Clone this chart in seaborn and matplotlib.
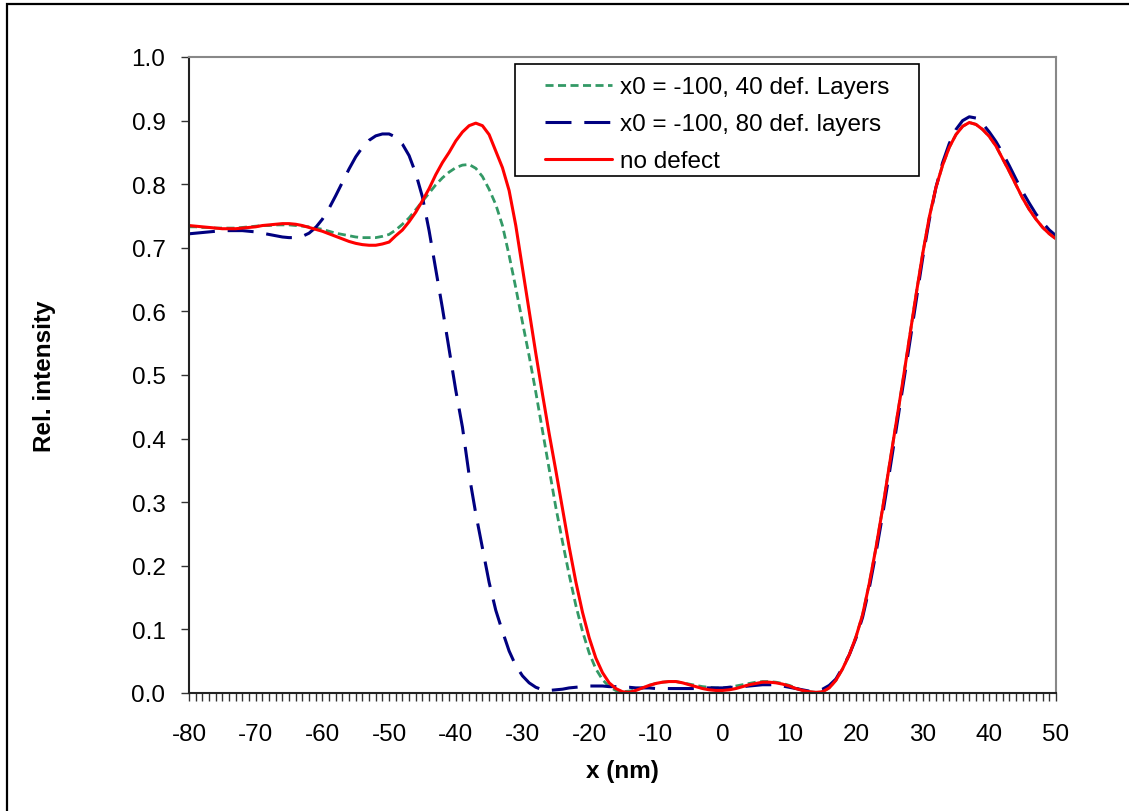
import numpy as np
import pandas as pd
import matplotlib
matplotlib.use("Agg")
import matplotlib.pyplot as plt
import matplotlib.patches as mpatches
from matplotlib.ticker import MultipleLocator, FormatStrFormatter
import seaborn as sns

# ---------------- data ----------------
x_nm = list(range(-80, 51))

no_defect = [
    0.735, 0.734, 0.733, 0.732, 0.731, 0.730, 0.730, 0.730, 0.731, 0.732,   # -80..-71
    0.733, 0.735, 0.736, 0.737, 0.738, 0.738, 0.737, 0.735, 0.732, 0.729,   # -70..-61
    0.726, 0.722, 0.718, 0.714, 0.710, 0.707, 0.705, 0.704, 0.704, 0.706,   # -60..-51
    0.709, 0.719, 0.728, 0.741, 0.756, 0.774, 0.793, 0.815, 0.834, 0.850,   # -50..-41
    0.868, 0.882, 0.892, 0.896, 0.892, 0.878, 0.852, 0.826, 0.790, 0.735,   # -40..-31
    0.668, 0.601, 0.534, 0.470, 0.408, 0.350, 0.290, 0.230, 0.175, 0.127,   # -30..-21
    0.087, 0.055, 0.032, 0.016, 0.007, 0.002, 0.001, 0.004, 0.008, 0.012,   # -20..-11
    0.015, 0.017, 0.018, 0.018, 0.016, 0.013, 0.010, 0.007, 0.005, 0.004,   # -10..-1
    0.004, 0.005, 0.007, 0.010, 0.013, 0.015, 0.017, 0.017, 0.016, 0.014,   # 0..9
    0.011, 0.007, 0.004, 0.002, 0.001, 0.002, 0.008, 0.020, 0.038, 0.060,   # 10..19
    0.088, 0.123, 0.172, 0.228, 0.290, 0.357, 0.422, 0.488, 0.556, 0.625,   # 20..29
    0.690, 0.748, 0.795, 0.830, 0.858, 0.878, 0.891, 0.897, 0.894, 0.886,   # 30..39
    0.875, 0.860, 0.840, 0.820, 0.799, 0.778, 0.760, 0.745, 0.732, 0.722,   # 40..49
    0.714,                                                                   # 50
]

def_40 = [
    0.733, 0.733, 0.732, 0.732, 0.731, 0.731, 0.731, 0.731, 0.732, 0.733,   # -80..-71
    0.734, 0.735, 0.735, 0.736, 0.736, 0.736, 0.735, 0.734, 0.733, 0.731,   # -70..-61
    0.729, 0.726, 0.723, 0.721, 0.719, 0.717, 0.716, 0.716, 0.716, 0.718,   # -60..-51
    0.721, 0.728, 0.737, 0.747, 0.760, 0.773, 0.786, 0.799, 0.810, 0.819,   # -50..-41
    0.826, 0.830, 0.831, 0.825, 0.812, 0.792, 0.768, 0.735, 0.688, 0.637,   # -40..-31
    0.583, 0.530, 0.473, 0.413, 0.352, 0.292, 0.238, 0.186, 0.138, 0.097,   # -30..-21
    0.063, 0.038, 0.021, 0.010, 0.004, 0.002, 0.003, 0.005, 0.008, 0.012,   # -20..-11
    0.015, 0.017, 0.018, 0.018, 0.016, 0.014, 0.012, 0.010, 0.009, 0.008,   # -10..-1
    0.008, 0.009, 0.011, 0.013, 0.015, 0.017, 0.018, 0.018, 0.017, 0.015,   # 0..9
    0.012, 0.008, 0.004, 0.002, 0.001, 0.002, 0.008, 0.020, 0.038, 0.060,   # 10..19
    0.088, 0.123, 0.172, 0.228, 0.290, 0.357, 0.422, 0.488, 0.556, 0.625,   # 20..29
    0.690, 0.748, 0.795, 0.830, 0.858, 0.878, 0.891, 0.897, 0.894, 0.886,   # 30..39
    0.875, 0.860, 0.840, 0.820, 0.799, 0.778, 0.760, 0.745, 0.732, 0.722,   # 40..49
    0.714,                                                                   # 50
]

def_80 = [
    0.722, 0.723, 0.724, 0.725, 0.726, 0.727, 0.727, 0.727, 0.727, 0.726,   # -80..-71
    0.725, 0.723, 0.721, 0.719, 0.717, 0.716, 0.716, 0.718, 0.723, 0.732,   # -70..-61
    0.745, 0.762, 0.782, 0.803, 0.824, 0.843, 0.858, 0.869, 0.876, 0.879,   # -60..-51
    0.879, 0.874, 0.863, 0.845, 0.817, 0.780, 0.727, 0.666, 0.605, 0.541,   # -50..-41
    0.476, 0.418, 0.343, 0.282, 0.228, 0.174, 0.130, 0.097, 0.066, 0.043,   # -40..-31
    0.027, 0.016, 0.009, 0.005, 0.004, 0.005, 0.006, 0.008, 0.009, 0.010,   # -30..-21
    0.011, 0.011, 0.011, 0.010, 0.010, 0.009, 0.009, 0.008, 0.008, 0.008,   # -20..-11
    0.007, 0.007, 0.007, 0.007, 0.007, 0.007, 0.007, 0.008, 0.008, 0.008,   # -10..-1
    0.008, 0.009, 0.009, 0.010, 0.011, 0.012, 0.013, 0.013, 0.013, 0.011,   # 0..9
    0.009, 0.007, 0.005, 0.003, 0.003, 0.006, 0.012, 0.022, 0.040, 0.060,   # 10..19
    0.086, 0.119, 0.165, 0.220, 0.280, 0.345, 0.412, 0.478, 0.546, 0.615,   # 20..29
    0.683, 0.744, 0.795, 0.834, 0.864, 0.886, 0.900, 0.906, 0.904, 0.895,   # 30..39
    0.882, 0.867, 0.849, 0.829, 0.808, 0.788, 0.770, 0.753, 0.740, 0.728,   # 40..49
    0.719,                                                                   # 50
]

labels = ["x0 = -100, 40 def. Layers", "x0 = -100, 80 def. layers", "no defect"]
x_ticks = list(range(-80, 51, 10))
y_ticks = [0.0, 0.1, 0.2, 0.3, 0.4, 0.5, 0.6, 0.7, 0.8, 0.9, 1.0]

# ---------------- style ----------------
sns.set_style("white")
plt.rcParams["font.family"] = ["Liberation Sans", "DejaVu Sans"]
plt.rcParams["axes.unicode_minus"] = False
plt.rcParams["text.color"] = "black"
plt.rcParams["axes.labelcolor"] = "black"
plt.rcParams["xtick.color"] = "black"
plt.rcParams["ytick.color"] = "black"

W, H = 1129, 812
fig = plt.figure(figsize=(W / 100, H / 100), dpi=100)
ax = fig.add_axes([189 / W, 1 - 694 / H, (1056 - 189) / W, (694 - 58) / H])

df = pd.DataFrame({"x": x_nm, "g": def_40, "b": def_80, "r": no_defect})

sns.lineplot(data=df, x="x", y="g", ax=ax, color="#339966", linewidth=2.0, label=labels[0])
ax.lines[-1].set_dashes([2.9, 1.6])
sns.lineplot(data=df, x="x", y="b", ax=ax, color="#000080", linewidth=2.2, label=labels[1])
ax.lines[-1].set_dashes([8.5, 4.2])
sns.lineplot(data=df, x="x", y="r", ax=ax, color="#FF0000", linewidth=2.2, label=labels[2])
ax.lines[-1].set_linestyle("-")

ax.set_xlim(-80, 50)
ax.set_ylim(0, 1.0)
ax.set_xticks(x_ticks)
ax.set_yticks(y_ticks)
ax.xaxis.set_minor_locator(MultipleLocator(1))
ax.yaxis.set_major_formatter(FormatStrFormatter("%.1f"))
ax.xaxis.set_major_formatter(FormatStrFormatter("%d"))

fs = 17.5
ax.tick_params(axis="x", which="both", direction="out", length=5.5, width=1.0,
               color="#333333", labelsize=fs, pad=16, bottom=True)
ax.tick_params(axis="x", which="minor", labelbottom=False)
ax.tick_params(axis="y", which="major", direction="out", length=6, width=1.0,
               color="#333333", labelsize=fs, pad=11, left=True)

for side in ["left", "bottom"]:
    ax.spines[side].set_color("#222222")
    ax.spines[side].set_linewidth(1.5)
for side in ["top", "right"]:
    ax.spines[side].set_visible(True)
    ax.spines[side].set_color("#888888")
    ax.spines[side].set_linewidth(1.5)

ax.set_xlabel("x (nm)", fontsize=fs, fontweight="bold")
ax.set_ylabel("Rel. intensity", fontsize=fs, fontweight="bold")
ax.xaxis.label.set_va("center")
ax.xaxis.set_label_coords(0.5, (694 - 772) / 636)
ax.yaxis.label.set_va("center")
ax.yaxis.set_label_coords((45 - 189) / 867, 0.5)

# legend box drawn as a patch in the axes, entries on top of it without frame
ax.add_patch(mpatches.Rectangle((515 / W, 1 - 177 / H), (919 - 515) / W, (177 - 65) / H,
                                transform=fig.transFigure, facecolor="white",
                                edgecolor="black", linewidth=1.2, zorder=4, clip_on=False))
leg = ax.legend(loc="upper left", bbox_to_anchor=(545 / W, 1 - 77 / H),
                bbox_transform=fig.transFigure, borderaxespad=0, borderpad=0,
                fontsize=fs, frameon=False, handlelength=2.75, handletextpad=0.33,
                labelspacing=0.62)
leg.set_zorder(5)

# outer chart border
fig.patches.append(mpatches.Rectangle((7 / W, -0.05), 1.1, 1 - 5 / H + 0.05,
                                      transform=fig.transFigure, fill=False,
                                      edgecolor="black", linewidth=1.6, clip_on=False))

fig.savefig("out.png", dpi=100)
